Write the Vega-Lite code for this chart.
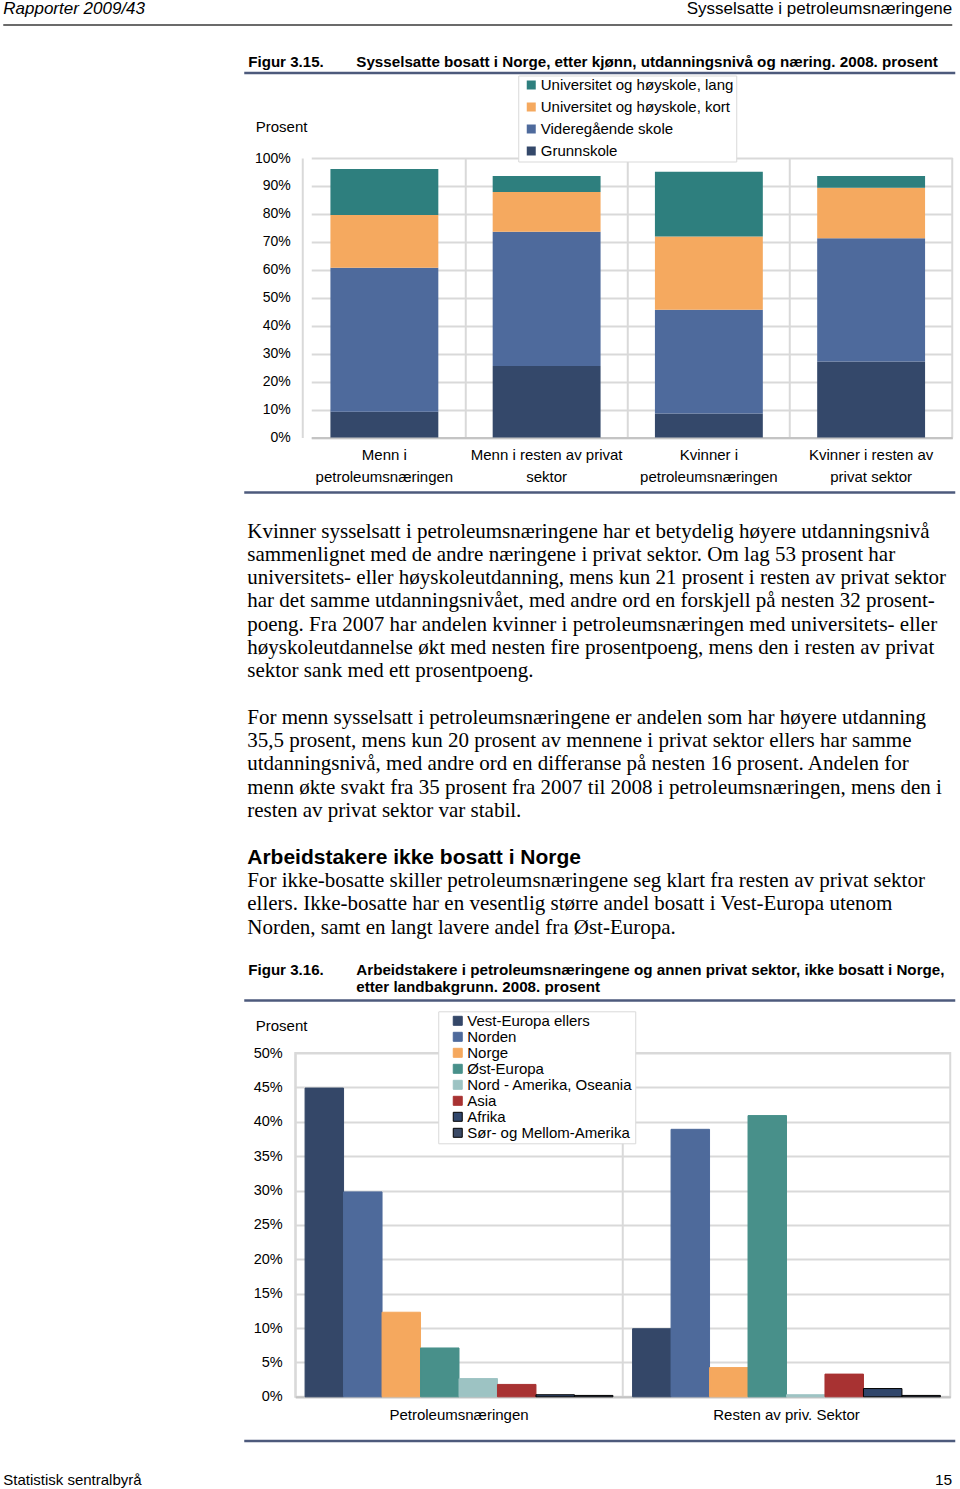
{
  "$schema": "https://vega.github.io/schema/vega-lite/v6.json",
  "background": "white",
  "padding": {"left": 2.25, "top": 0, "right": 5, "bottom": 2},
  "autosize": {"type": "pad"},
  "bounds": "flush",
  "spacing": 0,
  "resolve": {
    "scale": {"color": "independent", "stroke": "independent"},
    "legend": {"color": "independent", "stroke": "independent"}
  },
  "config": {
    "font": "Liberation Sans",
    "view": {"stroke": null},
    "axis": {"labelColor": "#000", "titleColor": "#000", "labelFont": "Liberation Sans", "titleFont": "Liberation Sans"},
    "legend": {"labelColor": "#000", "labelFont": "Liberation Sans", "labelLimit": 320}
  },
  "vconcat": [
    {
      "width": 657,
      "height": 157.5,
      "layer": [
        {
          "data": {"values": [{"tekst": "Rapporter 2009/43", "side": "venstre", "plass": "topp"}]},
          "mark": {"type": "text", "align": "left", "baseline": "alphabetic", "fontSize": 17, "fontStyle": "italic", "font": "Liberation Sans", "color": "#000"},
          "encoding": {
            "text": {"field": "tekst"},
            "x": {"field": "side", "type": "nominal", "scale": {"type": "point", "domain": ["venstre", "høyre"], "range": [-292, 657], "padding": 0}, "axis": null},
            "y": {"field": "plass", "type": "nominal", "scale": {"type": "point", "domain": ["topp", "bunn"], "range": [14, 1484.5], "padding": 0}, "axis": null}
          }
        },
        {
          "data": {"values": [{"tekst": "Sysselsatte i petroleumsnæringene", "side": "høyre", "plass": "topp"}]},
          "mark": {"type": "text", "align": "right", "baseline": "alphabetic", "fontSize": 17, "font": "Liberation Sans", "color": "#000"},
          "encoding": {
            "text": {"field": "tekst"},
            "x": {"field": "side", "type": "nominal", "scale": {"type": "point", "domain": ["venstre", "høyre"], "range": [-292, 657], "padding": 0}, "axis": null},
            "y": {"field": "plass", "type": "nominal", "scale": {"type": "point", "domain": ["topp", "bunn"], "range": [14, 1484.5], "padding": 0}, "axis": null}
          }
        },
        {
          "data": {"values": [{"tekst": "Statistisk sentralbyrå", "side": "venstre", "plass": "bunn"}]},
          "mark": {"type": "text", "align": "left", "baseline": "alphabetic", "fontSize": 15, "font": "Liberation Sans", "color": "#000"},
          "encoding": {
            "text": {"field": "tekst"},
            "x": {"field": "side", "type": "nominal", "scale": {"type": "point", "domain": ["venstre", "høyre"], "range": [-292, 657], "padding": 0}, "axis": null},
            "y": {"field": "plass", "type": "nominal", "scale": {"type": "point", "domain": ["topp", "bunn"], "range": [14, 1484.5], "padding": 0}, "axis": null}
          }
        },
        {
          "data": {"values": [{"tekst": "15", "side": "høyre", "plass": "bunn"}]},
          "mark": {"type": "text", "align": "right", "baseline": "alphabetic", "fontSize": 15.5, "font": "Liberation Sans", "color": "#000"},
          "encoding": {
            "text": {"field": "tekst"},
            "x": {"field": "side", "type": "nominal", "scale": {"type": "point", "domain": ["venstre", "høyre"], "range": [-292, 657], "padding": 0}, "axis": null},
            "y": {"field": "plass", "type": "nominal", "scale": {"type": "point", "domain": ["topp", "bunn"], "range": [14, 1484.5], "padding": 0}, "axis": null}
          }
        },
        {
          "data": {"values": [{"linje": "topp"}]},
          "mark": {"type": "rule", "color": "#3a3a3a", "strokeWidth": 1.5},
          "encoding": {
            "x": {"datum": 0, "type": "quantitative", "scale": {"domain": [0, 1], "range": [-292, 657]}, "axis": null},
            "x2": {"datum": 1},
            "y": {"field": "linje", "type": "nominal", "scale": {"type": "point", "domain": ["topp"], "range": [25, 25], "padding": 0}, "axis": null}
          }
        },
        {
          "data": {"values": [{"kant": "over"}, {"kant": "under"}]},
          "mark": {"type": "rule", "color": "#4d5a7c", "strokeWidth": 2.5},
          "encoding": {
            "x": {"datum": 0, "type": "quantitative", "scale": {"domain": [0, 1], "range": [-51, 660]}, "axis": null},
            "x2": {"datum": 1},
            "y": {"field": "kant", "type": "nominal", "scale": {"type": "point", "domain": ["over", "under"], "range": [73, 492.5], "padding": 0}, "axis": null}
          }
        },
        {
          "data": {"values": [{"kant": "over"}, {"kant": "under"}]},
          "mark": {"type": "rule", "color": "#4d5a7c", "strokeWidth": 2.5},
          "encoding": {
            "x": {"datum": 0, "type": "quantitative", "scale": {"domain": [0, 1], "range": [-51, 660]}, "axis": null},
            "x2": {"datum": 1},
            "y": {"field": "kant", "type": "nominal", "scale": {"type": "point", "domain": ["over", "under"], "range": [1000.5, 1441], "padding": 0}, "axis": null}
          }
        },
        {
          "data": {"values": [{"tekst": "Figur 3.15.", "figur": "3.15"}, {"tekst": "Figur 3.16.", "figur": "3.16"}]},
          "mark": {"type": "text", "align": "left", "baseline": "alphabetic", "fontSize": 15.1, "fontWeight": "bold", "font": "Liberation Sans", "color": "#000"},
          "encoding": {
            "text": {"field": "tekst"},
            "x": {"datum": 0, "type": "quantitative", "scale": {"domain": [0, 1], "range": [-47, 61]}, "axis": null},
            "y": {"field": "figur", "type": "nominal", "scale": {"type": "point", "domain": ["3.15", "3.16"], "range": [67, 975], "padding": 0}, "axis": null}
          }
        },
        {
          "data": {"values": [
            {"tekst": "Sysselsatte bosatt i Norge, etter kjønn, utdanningsnivå og næring. 2008. prosent", "figur": "3.15"},
            {"tekst": "Arbeidstakere i petroleumsnæringene og annen privat sektor, ikke bosatt i Norge,\netter landbakgrunn. 2008. prosent", "figur": "3.16"}
          ]},
          "mark": {"type": "text", "align": "left", "baseline": "alphabetic", "fontSize": 15.2, "fontWeight": "bold", "font": "Liberation Sans", "lineBreak": "\n", "lineHeight": 17, "color": "#000"},
          "encoding": {
            "text": {"field": "tekst"},
            "x": {"datum": 1, "type": "quantitative", "scale": {"domain": [0, 1], "range": [-47, 61]}, "axis": null},
            "y": {"field": "figur", "type": "nominal", "scale": {"type": "point", "domain": ["3.15", "3.16"], "range": [67, 975], "padding": 0}, "axis": null}
          }
        },
        {
          "data": {"values": [
            {"linje": 0, "tekst": "Kvinner sysselsatt i petroleumsnæringene har et betydelig høyere utdanningsnivå\nsammenlignet med de andre næringene i privat sektor. Om lag 53 prosent har\nuniversitets- eller høyskoleutdanning, mens kun 21 prosent i resten av privat sektor\nhar det samme utdanningsnivået, med andre ord en forskjell på nesten 32 prosent-\npoeng. Fra 2007 har andelen kvinner i petroleumsnæringen med universitets- eller\nhøyskoleutdannelse økt med nesten fire prosentpoeng, mens den i resten av privat\nsektor sank med ett prosentpoeng."},
            {"linje": 8, "tekst": "For menn sysselsatt i petroleumsnæringene er andelen som har høyere utdanning\n35,5 prosent, mens kun 20 prosent av mennene i privat sektor ellers har samme\nutdanningsnivå, med andre ord en differanse på nesten 16 prosent. Andelen for\nmenn økte svakt fra 35 prosent fra 2007 til 2008 i petroleumsnæringen, mens den i\nresten av privat sektor var stabil."},
            {"linje": 15, "tekst": "For ikke-bosatte skiller petroleumsnæringene seg klart fra resten av privat sektor\nellers. Ikke-bosatte har en vesentlig større andel bosatt i Vest-Europa utenom\nNorden, samt en langt lavere andel fra Øst-Europa."}
          ]},
          "mark": {"type": "text", "align": "left", "baseline": "alphabetic", "fontSize": 21, "font": "Liberation Serif", "lineBreak": "\n", "lineHeight": 23.3, "color": "#000"},
          "encoding": {
            "text": {"field": "tekst"},
            "x": {"datum": 0, "type": "quantitative", "scale": {"domain": [0, 1], "range": [-48, 0]}, "axis": null},
            "y": {"field": "linje", "type": "quantitative", "scale": {"domain": [0, 1], "range": [537.5, 560.8], "zero": false, "nice": false}, "axis": null}
          }
        },
        {
          "data": {"values": [{"linje": 14, "tekst": "Arbeidstakere ikke bosatt i Norge"}]},
          "mark": {"type": "text", "align": "left", "baseline": "alphabetic", "fontSize": 21, "fontWeight": "bold", "font": "Liberation Sans", "color": "#000"},
          "encoding": {
            "text": {"field": "tekst"},
            "x": {"datum": 0, "type": "quantitative", "scale": {"domain": [0, 1], "range": [-48, 0]}, "axis": null},
            "y": {"field": "linje", "type": "quantitative", "scale": {"domain": [0, 1], "range": [537.5, 560.8], "zero": false, "nice": false}, "axis": null}
          }
        }
      ],
      "resolve": {"scale": {"x": "independent", "y": "independent"}}
    },
    {
      "width": 657,
      "height": 279.5,
      "data": {"values": [
        {"gruppe": "Menn i petroleumsnæringen", "utdanning": "Grunnskole", "niva": 1, "prosent": 9.2},
        {"gruppe": "Menn i petroleumsnæringen", "utdanning": "Videregående skole", "niva": 2, "prosent": 51.5},
        {"gruppe": "Menn i petroleumsnæringen", "utdanning": "Universitet og høyskole, kort", "niva": 3, "prosent": 18.9},
        {"gruppe": "Menn i petroleumsnæringen", "utdanning": "Universitet og høyskole, lang", "niva": 4, "prosent": 16.5},
        {"gruppe": "Menn i resten av privat sektor", "utdanning": "Grunnskole", "niva": 1, "prosent": 25.6},
        {"gruppe": "Menn i resten av privat sektor", "utdanning": "Videregående skole", "niva": 2, "prosent": 48.0},
        {"gruppe": "Menn i resten av privat sektor", "utdanning": "Universitet og høyskole, kort", "niva": 3, "prosent": 14.2},
        {"gruppe": "Menn i resten av privat sektor", "utdanning": "Universitet og høyskole, lang", "niva": 4, "prosent": 5.8},
        {"gruppe": "Kvinner i petroleumsnæringen", "utdanning": "Grunnskole", "niva": 1, "prosent": 8.6},
        {"gruppe": "Kvinner i petroleumsnæringen", "utdanning": "Videregående skole", "niva": 2, "prosent": 37.1},
        {"gruppe": "Kvinner i petroleumsnæringen", "utdanning": "Universitet og høyskole, kort", "niva": 3, "prosent": 26.2},
        {"gruppe": "Kvinner i petroleumsnæringen", "utdanning": "Universitet og høyskole, lang", "niva": 4, "prosent": 23.2},
        {"gruppe": "Kvinner i resten av privat sektor", "utdanning": "Grunnskole", "niva": 1, "prosent": 27.2},
        {"gruppe": "Kvinner i resten av privat sektor", "utdanning": "Videregående skole", "niva": 2, "prosent": 44.1},
        {"gruppe": "Kvinner i resten av privat sektor", "utdanning": "Universitet og høyskole, kort", "niva": 3, "prosent": 18.1},
        {"gruppe": "Kvinner i resten av privat sektor", "utdanning": "Universitet og høyskole, lang", "niva": 4, "prosent": 4.2}
      ]},
      "mark": {"type": "bar"},
      "encoding": {
        "x": {
          "field": "gruppe", "type": "nominal",
          "sort": ["Menn i petroleumsnæringen", "Menn i resten av privat sektor", "Kvinner i petroleumsnæringen", "Kvinner i resten av privat sektor"],
          "scale": {"range": [8, 657], "paddingInner": 0.335, "paddingOuter": 0.1675},
          "axis": {
            "title": null, "labelAngle": 0, "labelFontSize": 15, "labelLineHeight": 22, "labelPadding": 10,
            "bandPosition": -0.2519, "labelLimit": 300,
            "labelExpr": "datum.value == 'Menn i petroleumsnæringen' ? ['Menn i', 'petroleumsnæringen'] : datum.value == 'Menn i resten av privat sektor' ? ['Menn i resten av privat', 'sektor'] : datum.value == 'Kvinner i petroleumsnæringen' ? ['Kvinner i', 'petroleumsnæringen'] : ['Kvinner i resten av', 'privat sektor']",
            "ticks": false, "domain": true, "domainColor": "#c4c4c4", "domainWidth": 2, "domainDash": [0, 8, 1000],
            "grid": true, "gridColor": "#d9d9d9", "gridWidth": 2
          }
        },
        "y": {
          "field": "prosent", "type": "quantitative", "stack": "zero",
          "scale": {"domain": [0, 100], "nice": false},
          "axis": {
            "title": "Prosent", "titleAngle": 0, "titleAlign": "left", "titleBaseline": "middle", "titleX": -40, "titleY": -31.7,
            "titleFontSize": 15, "titleFontWeight": "normal",
            "values": [0, 10, 20, 30, 40, 50, 60, 70, 80, 90, 100],
            "labelExpr": "datum.value + '%'", "labelFontSize": 14, "labelPadding": 5,
            "ticks": false, "domain": false, "grid": true, "gridColor": "#d9d9d9", "gridWidth": 2, "gridDash": [0, 8, 1000]
          }
        },
        "color": {
          "field": "utdanning", "type": "nominal",
          "scale": {
            "domain": ["Universitet og høyskole, lang", "Universitet og høyskole, kort", "Videregående skole", "Grunnskole"],
            "range": ["#2e7f7e", "#f5a95f", "#4e6a9c", "#34486a"]
          },
          "legend": {
            "title": null, "orient": "none", "legendX": 223, "legendY": -82.5, "padding": 2, "symbolOffset": 3.5,
            "rowPadding": 6, "labelFontSize": 15, "symbolType": "square", "symbolSize": 81, "labelOffset": 2,
            "strokeColor": "#d9d9d9", "fillColor": "#ffffff", "symbolStrokeWidth": 0, "labelLimit": 320
          }
        },
        "order": {"field": "niva", "type": "quantitative", "sort": "ascending"}
      },
      "view": {"stroke": "#d9d9d9", "strokeWidth": 2, "strokeDash": [0, 657, 279.5, 3000]}
    },
    {
      "width": 10,
      "height": 614.2,
      "data": {"values": [{"tom": ""}]},
      "mark": {"type": "text"},
      "encoding": {"text": {"field": "tom"}}
    },
    {
      "width": 655,
      "height": 343.8,
      "data": {"values": [
        {"sektor": "Petroleumsnæringen", "land": "Vest-Europa ellers", "prosent": 44.9},
        {"sektor": "Petroleumsnæringen", "land": "Norden", "prosent": 29.8},
        {"sektor": "Petroleumsnæringen", "land": "Norge", "prosent": 12.3},
        {"sektor": "Petroleumsnæringen", "land": "Øst-Europa", "prosent": 7.1},
        {"sektor": "Petroleumsnæringen", "land": "Nord - Amerika, Oseania", "prosent": 2.65},
        {"sektor": "Petroleumsnæringen", "land": "Asia", "prosent": 1.8},
        {"sektor": "Petroleumsnæringen", "land": "Afrika", "prosent": 0.3},
        {"sektor": "Petroleumsnæringen", "land": "Sør- og Mellom-Amerika", "prosent": 0.2},
        {"sektor": "Resten av priv. Sektor", "land": "Vest-Europa ellers", "prosent": 9.9},
        {"sektor": "Resten av priv. Sektor", "land": "Norden", "prosent": 38.9},
        {"sektor": "Resten av priv. Sektor", "land": "Norge", "prosent": 4.25},
        {"sektor": "Resten av priv. Sektor", "land": "Øst-Europa", "prosent": 40.9},
        {"sektor": "Resten av priv. Sektor", "land": "Nord - Amerika, Oseania", "prosent": 0.3},
        {"sektor": "Resten av priv. Sektor", "land": "Asia", "prosent": 3.3},
        {"sektor": "Resten av priv. Sektor", "land": "Afrika", "prosent": 1.2},
        {"sektor": "Resten av priv. Sektor", "land": "Sør- og Mellom-Amerika", "prosent": 0.2}
      ]},
      "mark": {"type": "bar", "strokeWidth": 1},
      "encoding": {
        "x": {
          "field": "sektor", "type": "nominal", "sort": ["Petroleumsnæringen", "Resten av priv. Sektor"],
          "scale": {"paddingInner": 0.06, "paddingOuter": 0.03},
          "axis": {
            "title": null, "labelAngle": 0, "labelFontSize": 15, "labelPadding": 11,
            "bandPosition": -0.0319, "labelLimit": 300,
            "ticks": false, "domain": true, "domainColor": "#c4c4c4", "domainWidth": 2,
            "grid": true, "gridColor": "#d9d9d9", "gridWidth": 2
          }
        },
        "xOffset": {
          "field": "land", "type": "nominal",
          "sort": ["Vest-Europa ellers", "Norden", "Norge", "Øst-Europa", "Nord - Amerika, Oseania", "Asia", "Afrika", "Sør- og Mellom-Amerika"],
          "scale": {"paddingInner": 0, "paddingOuter": 0}
        },
        "y": {
          "field": "prosent", "type": "quantitative",
          "scale": {"domain": [0, 50], "nice": false},
          "axis": {
            "title": "Prosent", "titleAngle": 0, "titleAlign": "left", "titleBaseline": "middle", "titleX": -40, "titleY": -27.7,
            "titleFontSize": 15, "titleFontWeight": "normal",
            "values": [0, 5, 10, 15, 20, 25, 30, 35, 40, 45, 50],
            "labelExpr": "datum.value + '%'", "labelFontSize": 14.5, "labelPadding": 13,
            "ticks": false, "domain": false, "grid": true, "gridColor": "#d9d9d9", "gridWidth": 2
          }
        },
        "color": {
          "field": "land", "type": "nominal",
          "scale": {
            "domain": ["Vest-Europa ellers", "Norden", "Norge", "Øst-Europa", "Nord - Amerika, Oseania", "Asia", "Afrika", "Sør- og Mellom-Amerika"],
            "range": ["#344768", "#4e6a9b", "#f5a85e", "#48908a", "#9dc3c3", "#a83232", "#30466b", "#3b4a66"]
          },
          "legend": {
            "title": null, "orient": "none", "legendX": 143, "legendY": -41.7, "padding": 2, "symbolOffset": 10,
            "rowPadding": 0, "labelFontSize": 15, "symbolType": "square", "symbolSize": 81, "labelOffset": 2,
            "strokeColor": "#d9d9d9", "fillColor": "#ffffff", "symbolStrokeWidth": 1, "labelLimit": 320
          }
        },
        "stroke": {
          "field": "land", "type": "nominal",
          "scale": {
            "domain": ["Vest-Europa ellers", "Norden", "Norge", "Øst-Europa", "Nord - Amerika, Oseania", "Asia", "Afrika", "Sør- og Mellom-Amerika"],
            "range": ["#344768", "#4e6a9b", "#f5a85e", "#48908a", "#9dc3c3", "#a83232", "#000000", "#000000"]
          },
          "legend": {
            "title": null, "orient": "none", "legendX": 143, "legendY": -41.7, "padding": 2, "symbolOffset": 10,
            "rowPadding": 0, "labelFontSize": 15, "symbolType": "square", "symbolSize": 81, "labelOffset": 2,
            "strokeColor": "#d9d9d9", "fillColor": "#ffffff", "symbolStrokeWidth": 1, "labelLimit": 320
          }
        }
      },
      "view": {"stroke": "#d9d9d9", "strokeWidth": 2}
    }
  ]
}
